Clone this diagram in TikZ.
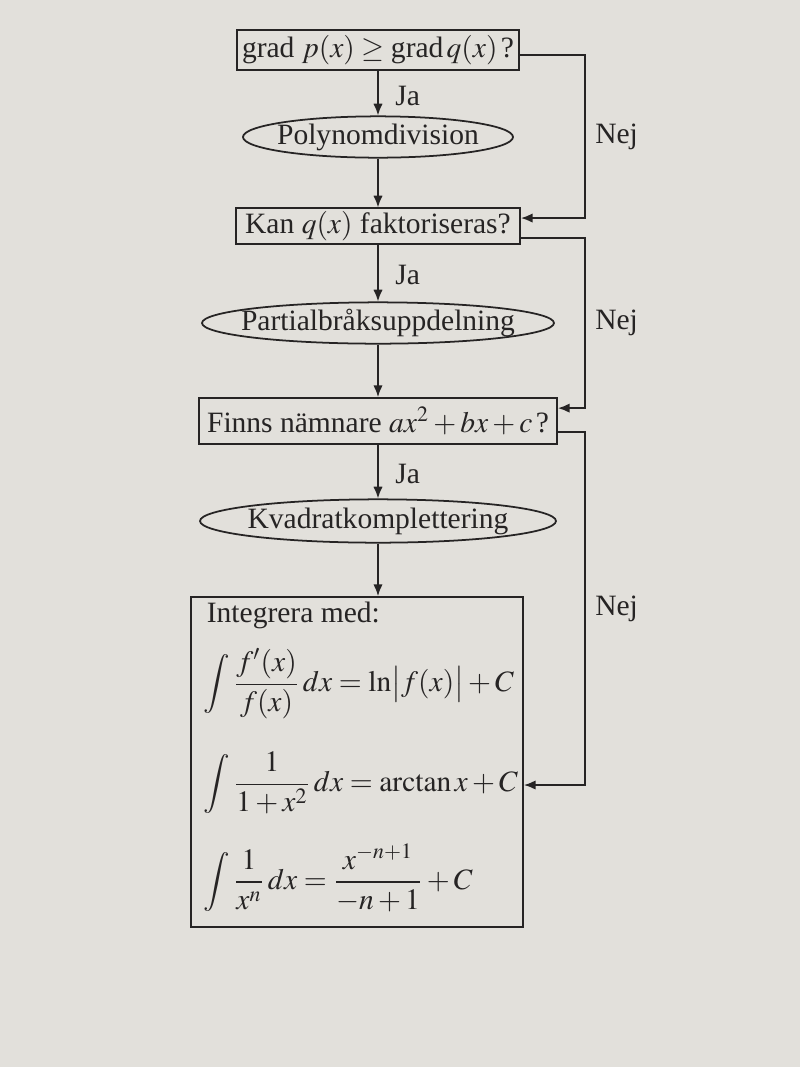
\documentclass[tikz,border=0pt]{standalone}
\usepackage{amsmath}
\usepackage{mathptmx}
\usepackage{fontspec}
\setmainfont{Liberation Serif}
\usepackage{xcolor}
\usetikzlibrary{arrows.meta,positioning,shapes.geometric}
\definecolor{paper}{RGB}{226,224,219}
\definecolor{ink}{RGB}{38,36,36}

\begin{document}
\begin{tikzpicture}[x=0.015cm, y=-0.015cm, color=ink, line width=0.75pt,
    font=\fontsize{12.6}{15}\selectfont,
    box/.style={draw, rectangle, inner sep=0pt},
    oval/.style={draw, ellipse, inner xsep=-1cm, inner ysep=0pt, minimum height=0.62cm},
    flow/.style={-{Latex[length=5pt,width=4pt]}},
    svar/.style={right, inner sep=4pt},
    ja/.style={right, inner xsep=7pt, yshift=-1pt}]
    \fill[paper] (0,0) rectangle (800,1067);
    \node[box, minimum width=4.23cm, minimum height=0.6cm] (grad) at (378,50) {grad $p(x)\geq \mbox{grad}\,q(x)\,$?};
    \node[oval, minimum width=4.05cm] (poly) at (378,137) {Polynomdivision};
    \node[box, minimum width=4.26cm, minimum height=0.53cm] (kan) at (378,226) {Kan $q(x)$ faktoriseras?};
    \node[oval, minimum width=5.28cm] (part) at (378,323) {Partialbråksuppdelning};
    \node[box, minimum width=5.37cm, minimum height=0.69cm] (finns) at (378,421) {Finns nämnare $ax^2+bx+c\,$?};
    \node[oval, minimum width=5.34cm, minimum height=0.65cm] (kvad) at (378,521) {Kvadratkomplettering};
    \node[box, minimum width=4.98cm, minimum height=4.95cm] (integ) at (357,762) {};
    \node[anchor=west, inner sep=0pt] (head) at (206,615) {Integrera med:};
    \node[anchor=west, inner sep=0pt] (f1) at (203,684) {$\displaystyle\int\frac{f'(x)}{f(x)}\,dx=\ln\bigl|f(x)\bigr|+C$};
    \node[anchor=west, inner sep=0pt] (f2) at (203,783) {$\displaystyle\int\frac{1}{1+x^2}\,dx=\arctan x+C$};
    \node[anchor=west, inner sep=0pt] (f3) at (203,878) {$\displaystyle\int\frac{1}{x^n}\,dx=\frac{x^{-n+1}}{-n+1}+C$};

    \coordinate (trunk) at (585,0);
    \coordinate (lvl) at (0,785);
    \coordinate (o1) at ([yshift=-2pt]grad.east);
    \coordinate (i2) at ([yshift=3.4pt]kan.east);
    \coordinate (o2) at ([yshift=-5pt]kan.east);
    \coordinate (i3) at ([yshift=5.5pt]finns.east);
    \coordinate (o3) at ([yshift=-4.7pt]finns.east);
    \coordinate (i4) at (integ.east |- lvl);

    \draw[flow] (grad) -- node[ja] {Ja} (poly);
    \draw[flow] (poly) -- (kan);
    \draw[flow] (kan) -- node[ja] {Ja} (part);
    \draw[flow] (part) -- (finns);
    \draw[flow] (finns) -- node[ja] {Ja} (kvad);
    \draw[flow] (kvad) -- (kvad |- integ.north);

    \draw[flow] (o1) -| node[svar, pos=0.75] {Nej} (i2 -| trunk) -- (i2);
    \draw[flow] (o2) -| node[svar, pos=0.75] {Nej} (i3 -| trunk) -- (i3);
    \draw[flow] (o3) -| node[svar, pos=0.75] {Nej} (i4 -| trunk) -- (i4);
\end{tikzpicture}
\end{document}
